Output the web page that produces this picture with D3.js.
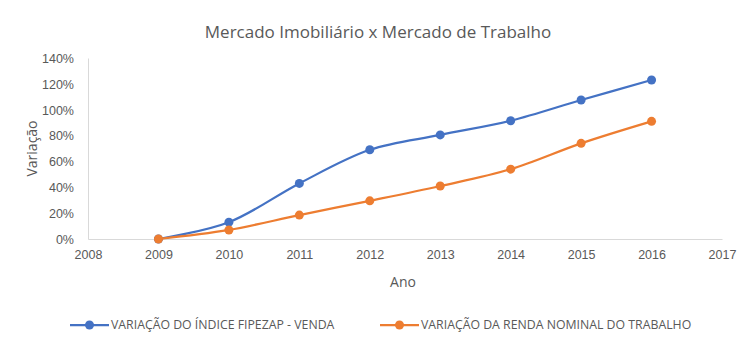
<!DOCTYPE html>
<html lang="pt">
<head>
<meta charset="UTF-8">
<title>Mercado Imobiliário x Mercado de Trabalho</title>
<script src="https://d3js.org/d3.v7.min.js"></script>
<style>
body{margin:0;background:#fff}
svg{display:block;font-family:"Open Sans",sans-serif}
.axis text{fill:#595959;font-size:12.5px}
.axis path,.axis line{stroke:#d9d9d9}
</style>
</head>
<body>
<div id="chart"></div>
<script>
var years = [2009, 2010, 2011, 2012, 2013, 2014, 2015, 2016];
var fipezap = [0, 13, 43, 69, 80.5, 91.5, 107.5, 123];
var renda = [0, 7, 18.5, 29.5, 41, 54, 74, 91];
var yTicks = [0, 20, 40, 60, 80, 100, 120, 140];
var xTicks = [2008, 2009, 2010, 2011, 2012, 2013, 2014, 2015, 2016, 2017];
var seriesNames = ['VARIAÇÃO DO ÍNDICE FIPEZAP - VENDA', 'VARIAÇÃO DA RENDA NOMINAL DO TRABALHO'];
var colors = ['#4472c4', '#ed7d31'];

var W = 750, H = 350;
var margin = { top: 58, right: 28, bottom: 111, left: 88 };
var w = W - margin.left - margin.right;
var h = H - margin.top - margin.bottom;

var svg = d3.select('#chart').append('svg').attr('width', W).attr('height', H);

svg.append('text').attr('x', 378).attr('y', 38).attr('text-anchor', 'middle')
  .attr('fill', '#595959').attr('font-size', '17px')
  .text('Mercado Imobiliário x Mercado de Trabalho');

var g = svg.append('g').attr('transform', 'translate(' + margin.left + ',' + margin.top + ')');

var x = d3.scaleLinear().domain([2008, 2017]).range([0, w]);
var y = d3.scaleLinear().domain([0, 140]).range([h, 0]);

// Axes
g.append('g').attr('class', 'axis').attr('transform', 'translate(0,' + h + ')')
  .call(d3.axisBottom(x).tickValues(xTicks).tickFormat(d3.format('d')).tickSize(0).tickPadding(11))
  .call(function(s) { s.select('.domain').attr('stroke', '#d9d9d9'); });

g.append('g').attr('class', 'axis')
  .call(d3.axisLeft(y).tickValues(yTicks).tickFormat(function(d) { return d + '%'; }).tickSize(0).tickPadding(14))
  .call(function(s) { s.selectAll('text').attr('dy', '0.35em'); });

svg.append('text').attr('x', margin.left + w / 2 - 2).attr('y', 287).attr('text-anchor', 'middle')
  .attr('fill', '#595959').attr('font-size', '14px').text('Ano');

svg.append('text').attr('transform', 'translate(37,' + (margin.top + h / 2) + ') rotate(-90)')
  .attr('text-anchor', 'middle').attr('fill', '#595959').attr('font-size', '14px').text('Variação');

// Lines
var line = d3.line().x(function(d, i) { return x(years[i]); }).y(function(d) { return y(d); })
  .curve(d3.curveCatmullRom.alpha(0.5));

[fipezap, renda].forEach(function(vals, k) {
  g.append('path').datum(vals).attr('d', line).attr('fill', 'none')
    .attr('stroke', colors[k]).attr('stroke-width', 2.25);
  g.selectAll('.dot' + k).data(vals).join('circle').attr('class', 'dot' + k)
    .attr('cx', function(d, i) { return x(years[i]); }).attr('cy', function(d) { return y(d); })
    .attr('r', 4.5).attr('fill', colors[k]);
});

// Legend
var legendX = [70, 380];
seriesNames.forEach(function(name, k) {
  var lg = svg.append('g').attr('transform', 'translate(' + legendX[k] + ',325)');
  lg.append('line').attr('x1', 0).attr('x2', 39).attr('stroke', colors[k]).attr('stroke-width', 2.25);
  lg.append('circle').attr('cx', 19.5).attr('r', 4.5).attr('fill', colors[k]);
  lg.append('text').attr('x', 41).attr('dy', '0.35em').attr('fill', '#595959')
    .attr('font-size', '12.3px').text(name);
});
</script>
</body>
</html>
